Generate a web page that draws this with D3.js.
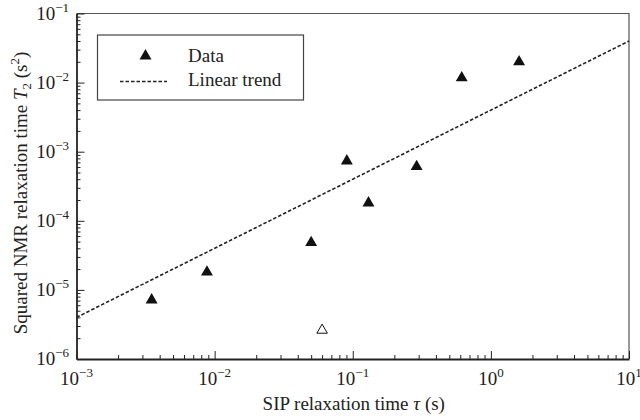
<!DOCTYPE html>
<html>
<head>
<meta charset="utf-8">
<script src="https://cdn.jsdelivr.net/npm/d3@7"></script>
<style>
  html, body { margin: 0; padding: 0; background: #fff; }
  svg { display: block; }
  text { font-family: "Liberation Serif", "Times New Roman", serif; fill: #222; }
</style>
</head>
<body>
<svg id="chart" width="640" height="420"></svg>
<script>
// SIP relaxation time tau (s) vs squared NMR relaxation time T2^2 (s^2)
const tauData   = [0.0035, 0.0088, 0.050, 0.0906, 0.130, 0.290, 0.615, 1.60];
const t2SqData  = [7.4e-6, 1.87e-5, 5.0e-5, 7.6e-4, 1.87e-4, 6.3e-4, 1.21e-2, 2.06e-2];
// outlier shown as open marker
const tauOutlier  = [0.060];
const t2SqOutlier = [2.7e-6];
// linear trend (slope 1 in log-log space)
const trendTau  = [1e-3, 10];
const trendT2Sq = [4.0e-6, 4.0e-2];

const xTickExp = [-3, -2, -1, 0, 1];
const yTickExp = [-6, -5, -4, -3, -2, -1];

const svg = d3.select("#chart");
const plotL = 76.5, plotR = 629, plotT = 13.5, plotB = 359;
const fs = 19, fsSmall = 13;

const x = d3.scaleLog().domain([1e-3, 10]).range([plotL, plotR]);
const y = d3.scaleLog().domain([1e-6, 1e-1]).range([plotB, plotT]);

function minorTicks(exps) {
  const out = [];
  for (let i = 0; i < exps.length - 1; i++) {
    for (let m = 2; m <= 9; m++) out.push(m * Math.pow(10, exps[i]));
  }
  return out;
}

// frame (top and right)
svg.append("path")
  .attr("d", `M${plotL},${plotT}H${plotR}V${plotB}`)
  .attr("fill", "none").attr("stroke", "#555").attr("stroke-width", 1.2);

// x axis: major + minor ticks pointing inward
const gx = svg.append("g").attr("transform", `translate(0,${plotB})`);
gx.call(d3.axisBottom(x).tickValues(xTickExp.map(e => Math.pow(10, e)))
  .tickSizeInner(-8).tickSizeOuter(0).tickFormat(""));
gx.append("g").call(d3.axisBottom(x).tickValues(minorTicks(xTickExp))
  .tickSizeInner(-4).tickSizeOuter(0).tickFormat(""))
  .select(".domain").remove();
gx.selectAll("line").attr("stroke", "#222").attr("stroke-width", 1);
gx.select(".domain").attr("stroke", "#222").attr("stroke-width", 1.8);

// y axis
const gy = svg.append("g").attr("transform", `translate(${plotL},0)`);
gy.call(d3.axisLeft(y).tickValues(yTickExp.map(e => Math.pow(10, e)))
  .tickSizeInner(-8).tickSizeOuter(0).tickFormat(""));
gy.append("g").call(d3.axisLeft(y).tickValues(minorTicks(yTickExp))
  .tickSizeInner(-4).tickSizeOuter(0).tickFormat(""))
  .select(".domain").remove();
gy.selectAll("line").attr("stroke", "#222").attr("stroke-width", 1);
gy.select(".domain").attr("stroke", "#222").attr("stroke-width", 1.8);

// power-of-ten tick labels
const expText = e => (e < 0 ? "\u2212" + (-e) : String(e));
xTickExp.forEach(e => {
  const t = svg.append("text")
    .attr("x", x(Math.pow(10, e))).attr("y", 385)
    .attr("text-anchor", "middle").attr("font-size", fs);
  t.append("tspan").text("10");
  t.append("tspan").attr("font-size", fsSmall).attr("dy", -8).text(expText(e));
});
yTickExp.forEach(e => {
  const t = svg.append("text")
    .attr("x", 69).attr("y", y(Math.pow(10, e)) + 6)
    .attr("text-anchor", "end").attr("font-size", fs);
  t.append("tspan").text("10");
  t.append("tspan").attr("font-size", fsSmall).attr("dy", -8).text(expText(e));
});

// axis titles
const xt = svg.append("text").attr("x", (plotL + plotR) / 2 + 1).attr("y", 410)
  .attr("text-anchor", "middle").attr("font-size", fs);
xt.append("tspan").text("SIP relaxation time ");
xt.append("tspan").attr("font-style", "italic").text("\u03C4");
xt.append("tspan").text(" (s)");

const yt = svg.append("text")
  .attr("transform", `translate(27,193) rotate(-90)`)
  .attr("text-anchor", "middle").attr("font-size", fs);
yt.append("tspan").text("Squared NMR relaxation time ");
yt.append("tspan").attr("font-style", "italic").text("T");
yt.append("tspan").attr("font-size", fsSmall).attr("dy", 4).text("2");
yt.append("tspan").attr("dy", -4).text(" (s");
yt.append("tspan").attr("font-size", fsSmall).attr("dy", -8).text("2");
yt.append("tspan").attr("dy", 8).text(")");

// trend line
const line = d3.line().x(d => x(d[0])).y(d => y(d[1]));
svg.append("path")
  .datum(d3.zip(trendTau, trendT2Sq))
  .attr("d", line)
  .attr("fill", "none").attr("stroke", "#222").attr("stroke-width", 1.6)
  .attr("stroke-dasharray", "3.5,2");

// markers
const tri = d3.symbol().type(d3.symbolTriangle).size(62);
svg.append("g").selectAll("path")
  .data(d3.zip(tauData, t2SqData))
  .join("path")
  .attr("d", tri)
  .attr("transform", d => `translate(${x(d[0])},${y(d[1]) + 1})`)
  .attr("fill", "#111");
svg.append("g").selectAll("path")
  .data(d3.zip(tauOutlier, t2SqOutlier))
  .join("path")
  .attr("d", d3.symbol().type(d3.symbolTriangle).size(48))
  .attr("transform", d => `translate(${x(d[0])},${y(d[1]) + 1})`)
  .attr("fill", "#fff").attr("stroke", "#111").attr("stroke-width", 1);

// legend
const lg = svg.append("g");
lg.append("rect").attr("x", 97.5).attr("y", 35).attr("width", 206).attr("height", 65)
  .attr("fill", "#fff").attr("stroke", "#444").attr("stroke-width", 1.2);
lg.append("path").attr("d", tri)
  .attr("transform", "translate(145.5,56)").attr("fill", "#111");
lg.append("line").attr("x1", 120).attr("x2", 167).attr("y1", 81.5).attr("y2", 81.5)
  .attr("stroke", "#222").attr("stroke-width", 1.6).attr("stroke-dasharray", "3.5,2");
lg.append("text").attr("x", 188).attr("y", 62).attr("font-size", fs).text("Data");
lg.append("text").attr("x", 188).attr("y", 86).attr("font-size", fs).text("Linear trend");
</script>
</body>
</html>
